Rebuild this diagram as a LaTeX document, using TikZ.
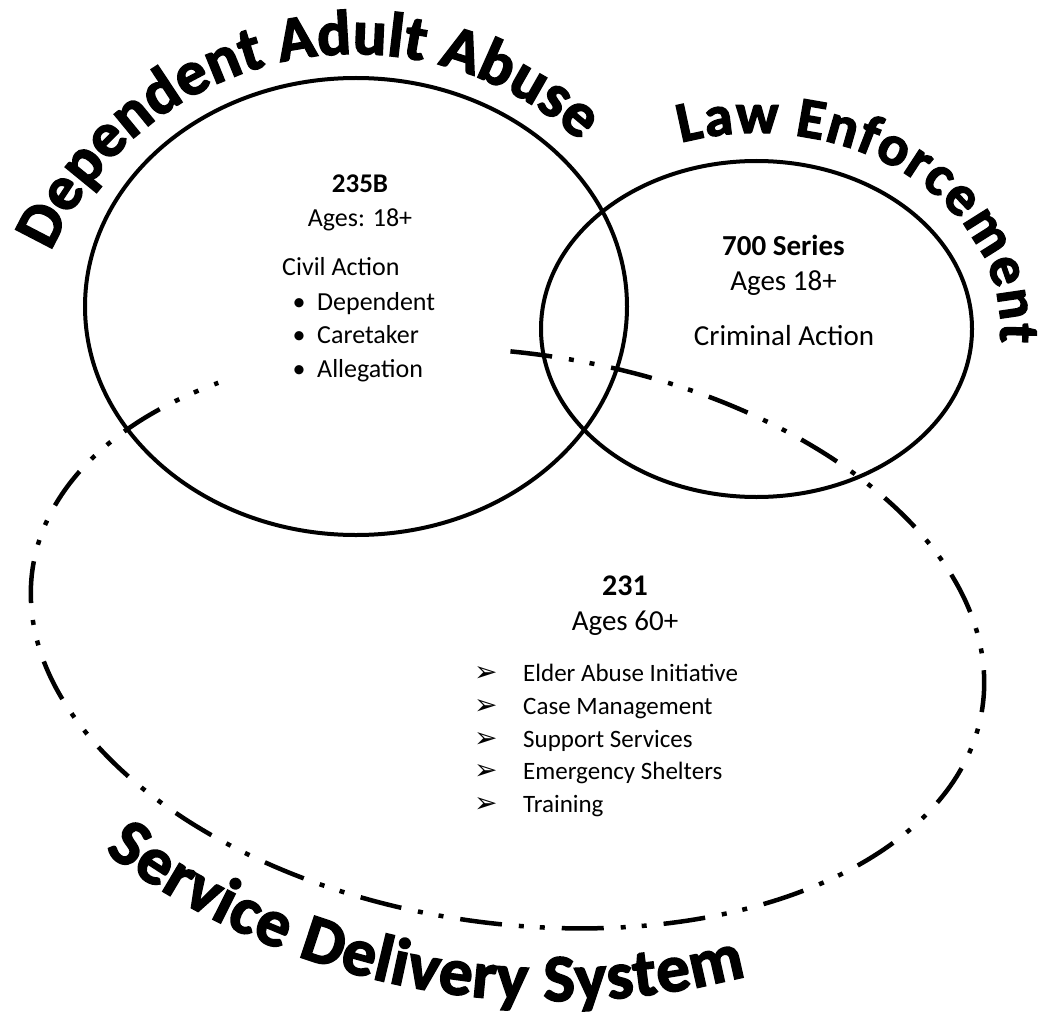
\documentclass[tikz,border=0pt]{standalone}
\usepackage{fontspec}
\setmainfont{Carlito}
\newfontfamily\symfont{DejaVu Sans}
\newfontfamily\heavyfont[BoldFeatures={FakeBold=2.5}]{Carlito}
\usetikzlibrary{decorations.text}
\newcommand\titleA{\heavyfont\fontsize{63}{68}\selectfont\bfseries}
\newcommand\titleB{\heavyfont\fontsize{57}{62}\selectfont\bfseries}
\newcommand\titleC{\heavyfont\fontsize{67}{72}\selectfont\bfseries}
\begin{document}
\begin{tikzpicture}[x=1pt,y=1pt,
  solidring/.style={line width=4pt},
  dashring/.style={line width=4.5pt, dash pattern=on 42pt off 17pt on 5pt off 16pt on 5pt off 17pt},
  body/.style={inner sep=0pt, font=\fontsize{26}{31}\selectfont},
  bodybold/.style={inner sep=0pt, font=\fontsize{27}{31}\selectfont\bfseries},
  lawtxt/.style={inner sep=0pt, font=\fontsize{29}{34}\selectfont},
  lawbold/.style={inner sep=0pt, font=\fontsize{29}{34}\selectfont\bfseries},
  listtxt/.style={inner sep=0pt, font=\fontsize{25}{30}\selectfont},
  arrowbullet/.style={inner sep=0pt, font=\symfont\fontsize{28}{30}\selectfont},
  dotbullet/.style={inner sep=0pt, font=\fontsize{26}{31}\selectfont}]
\useasboundingbox (0,0) rectangle (1043,-1019);
\fill[white] (0,0) rectangle (1043,-1019);

% circles
\draw[solidring] (356,-306.5) ellipse [x radius=271, y radius=228.5];
\draw[solidring] (756.5,-329) ellipse [x radius=215.5, y radius=168];
\begin{scope}[shift={(507.5,-638)}, rotate=-8.3]
  \draw[dashring] (94.6:480 and 285) arc[start angle=94.6, end angle=-227.7, x radius=480, y radius=285];
\end{scope}

% arched titles
\path[decorate, decoration={text along path, text={|\titleA|Dependent Adult Abuse}, text align={fit to path}}]
  (355,-387) ++(156:333) arc[start angle=156, end angle=47.5, radius=333];
\path[decorate, decoration={text along path, text={|\titleB|Law Enforcement}, text align={fit to path}}]
  (756.5,-329) ++(108:244 and 196) arc[start angle=108, end angle=-4, x radius=244, y radius=196];
\path[decorate, decoration={text along path, text={|\titleC|Service Delivery System}, text align={fit to path}}]
  (554,-249) ++(233.3:752) arc[start angle=233.3, end angle=284.8, radius=752];

% 235B block
\node[bodybold, anchor=base] (t235) at (360,-193) {235B};
\node[body, anchor=base] (a18) at (360,-226) {Ages: 18+};
\node[body, anchor=base west] (civil) at (282,-275) {Civil Action};
\node[dotbullet, anchor=base] (b1) at (299,-310) {•};
\node[body, anchor=base west] (dep) at (317,-310) {Dependent};
\node[dotbullet, anchor=base] (b2) at (299,-343) {•};
\node[body, anchor=base west] (care) at (317,-343) {Caretaker};
\node[dotbullet, anchor=base] (b3) at (299,-377) {•};
\node[body, anchor=base west] (alle) at (317,-377) {Allegation};

% 700 Series block
\node[lawbold, anchor=base] (t700) at (783.5,-255) {700 Series};
\node[lawtxt, anchor=base] (l18) at (783.5,-290) {Ages 18+};
\node[lawtxt, anchor=base] (crim) at (784,-345) {Criminal Action};

% 231 block
\node[lawbold, font=\fontsize{30}{34}\selectfont\bfseries, anchor=base] (t231) at (625,-595) {231};
\node[lawtxt, anchor=base] (a60) at (625,-630) {Ages 60+};
\node[arrowbullet, anchor=base west] (r1) at (474,-681.5) {➢};
\node[listtxt, anchor=base west] (e1) at (523,-681.5) {Elder Abuse Initiative};
\node[arrowbullet, anchor=base west] (r2) at (474,-714.5) {➢};
\node[listtxt, anchor=base west] (e2) at (523,-714.5) {Case Management};
\node[arrowbullet, anchor=base west] (r3) at (474,-747) {➢};
\node[listtxt, anchor=base west] (e3) at (523,-747) {Support Services};
\node[arrowbullet, anchor=base west] (r4) at (474,-779.5) {➢};
\node[listtxt, anchor=base west] (e4) at (523,-779.5) {Emergency Shelters};
\node[arrowbullet, anchor=base west] (r5) at (474,-812) {➢};
\node[listtxt, anchor=base west] (e5) at (523,-812) {Training};
\end{tikzpicture}
\end{document}
